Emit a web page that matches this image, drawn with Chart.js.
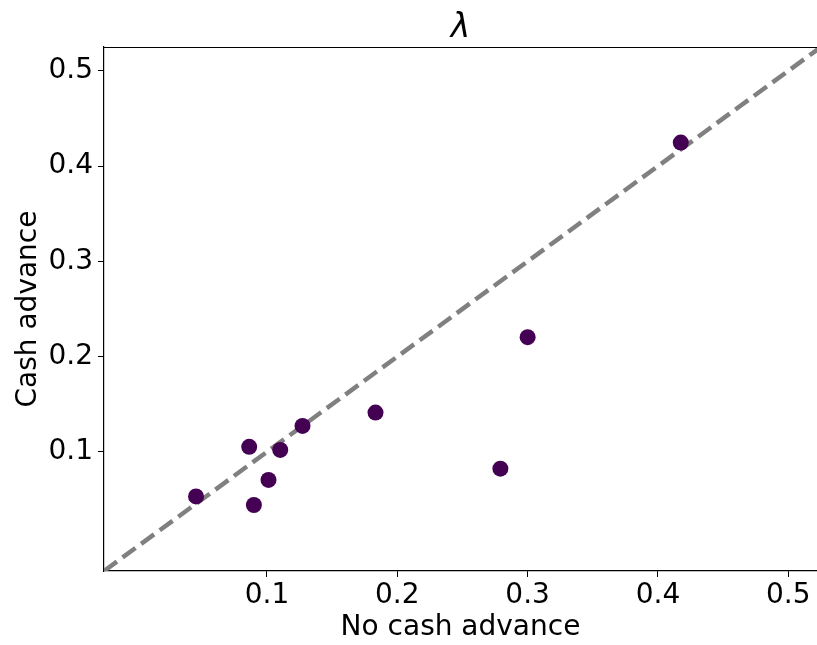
<!DOCTYPE html>
<html>
<head>
<meta charset="utf-8">
<script src="https://cdn.jsdelivr.net/npm/chart.js@4/dist/chart.umd.min.js"></script>
<style>
  html, body { margin: 0; padding: 0; background: #fff; }
  #wrap { width: 817px; height: 645px; }
</style>
</head>
<body>
<div id="wrap"><canvas id="grafico" width="817" height="645"></canvas></div>
<script>
// lambda estimado com e sem cash advance, um ponto por grupo
const semCash = [0.0456, 0.0864, 0.0900, 0.1012, 0.1102, 0.1273, 0.1833, 0.2791, 0.3000, 0.4175]
const comCash = [0.0533, 0.1053, 0.0443, 0.0706, 0.1021, 0.1273, 0.1413, 0.0824, 0.2204, 0.4247]
const ticksEixo = [0.1, 0.2, 0.3, 0.4, 0.5]
const limX = [-0.025, 0.522]
const limY = [-0.025, 0.525]
const diagonal = [-0.025, 0.53] // linha y = x
const titulo = 'λ'

const FONTE = 'DejaVu Sans'
Chart.defaults.font.family = FONTE
Chart.defaults.color = '#000'

// titulo centrado na area do grafico + moldura de cima (a da direita fica fora da figura)
const moldura = {
  id: 'moldura',
  afterDraw(chart) {
    const { ctx, chartArea: a } = chart
    ctx.save()
    ctx.strokeStyle = '#000'
    ctx.lineWidth = 1.2
    ctx.beginPath()
    ctx.moveTo(a.left, a.top + 0.5)
    ctx.lineTo(a.right, a.top + 0.5)
    ctx.stroke()

    ctx.fillStyle = '#000'
    ctx.font = `italic 33px "${FONTE}"`
    ctx.textAlign = 'center'
    ctx.textBaseline = 'alphabetic'
    ctx.fillText(titulo, (a.left + a.right) / 2, a.top - 10)
    ctx.restore()
  }
}

const fixarTicks = scale => {
  scale.ticks = ticksEixo.map(v => ({ value: v }))
}

new Chart(document.getElementById('grafico'), {
  type: 'scatter',
  data: {
    datasets: [
      {
        data: semCash.map((x, i) => ({ x, y: comCash[i] })),
        backgroundColor: '#440154',
        borderColor: '#440154',
        borderWidth: 0,
        pointRadius: 8,
        pointHoverRadius: 8
      },
      {
        type: 'line',
        data: diagonal.map(v => ({ x: v, y: v })),
        borderColor: '#808080',
        borderWidth: 4.5,
        borderDash: [16, 7],
        pointRadius: 0,
        fill: false,
        clip: 0
      }
    ]
  },
  options: {
    responsive: false,
    animation: false,
    layout: { autoPadding: false, padding: { left: 0, right: 0, top: 47, bottom: 0 } },
    plugins: {
      legend: { display: false },
      tooltip: { enabled: false },
      title: { display: false }
    },
    scales: {
      x: {
        type: 'linear',
        min: limX[0],
        max: limX[1],
        afterBuildTicks: fixarTicks,
        afterFit: s => { s.height = 74; s.paddingRight = 0; s.paddingLeft = 0 },
        ticks: { font: { size: 28 }, padding: 2, callback: v => v.toFixed(1), maxRotation: 0 },
        grid: { drawOnChartArea: false, drawTicks: true, tickLength: 6, color: '#000', lineWidth: 1 },
        border: { display: true, color: '#000', width: 1.2 },
        title: { display: true, text: 'No cash advance', font: { size: 28 }, padding: { top: 3, bottom: 0 } }
      },
      y: {
        type: 'linear',
        min: limY[0],
        max: limY[1],
        afterBuildTicks: fixarTicks,
        afterFit: s => { s.width = 104; s.paddingTop = 0; s.paddingBottom = 0 },
        ticks: { font: { size: 28 }, padding: 5, callback: v => v.toFixed(1) },
        grid: { drawOnChartArea: false, drawTicks: true, tickLength: 6, color: '#000', lineWidth: 1 },
        border: { display: true, color: '#000', width: 1.2 },
        title: { display: true, text: 'Cash advance', font: { size: 28 }, padding: { top: 12, bottom: 0 } }
      }
    }
  },
  plugins: [moldura]
})
</script>
</body>
</html>
